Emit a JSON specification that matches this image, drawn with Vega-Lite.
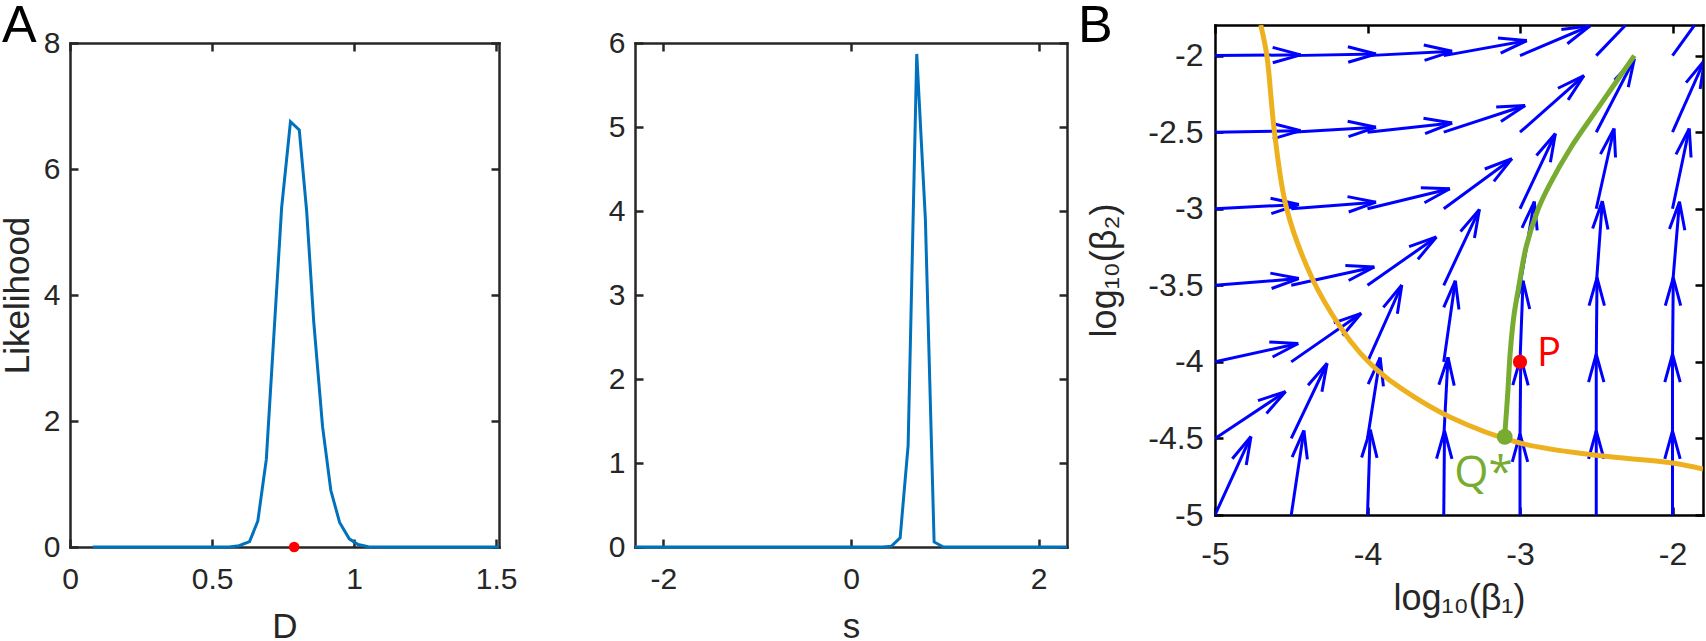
{
  "$schema": "https://vega.github.io/schema/vega-lite/v6.json",
  "padding": 0,
  "background": "white",
  "config": {
    "view": {"stroke": null},
    "font": "Liberation Sans",
    "axis": {
      "domainColor": "#262626", "domainWidth": 2.5, "domainCap": "square",
      "tickColor": "#262626", "tickWidth": 2.5, "tickSize": -8,
      "labelColor": "#262626", "labelFont": "Liberation Sans", "labelFontSize": 30, "labelPadding": 18,
      "titleColor": "#262626", "titleFont": "Liberation Sans", "titleFontSize": 35, "titleFontWeight": "normal",
      "grid": false, "labelFlush": false, "labelOverlap": false
    }
  },
  "datasets": {
    "likD": [
      {"D": 0.08, "L": 0}, {"D": 0.2, "L": 0}, {"D": 0.3, "L": 0}, {"D": 0.4, "L": 0}, {"D": 0.5, "L": 0},
      {"D": 0.56, "L": 0}, {"D": 0.595, "L": 0.02}, {"D": 0.632, "L": 0.085}, {"D": 0.661, "L": 0.41},
      {"D": 0.676, "L": 0.9}, {"D": 0.691, "L": 1.39}, {"D": 0.745, "L": 5.39}, {"D": 0.776, "L": 6.75},
      {"D": 0.807, "L": 6.62}, {"D": 0.833, "L": 5.33}, {"D": 0.858, "L": 3.57}, {"D": 0.889, "L": 1.91},
      {"D": 0.918, "L": 0.9}, {"D": 0.949, "L": 0.39}, {"D": 0.983, "L": 0.13}, {"D": 1.014, "L": 0.04},
      {"D": 1.05, "L": 0.005}, {"D": 1.1, "L": 0}, {"D": 1.2, "L": 0}, {"D": 1.3, "L": 0}, {"D": 1.4, "L": 0},
      {"D": 1.51, "L": 0}
    ],
    "dotD": [{"D": 0.789, "L": 0}],
    "likS": [
      {"s": -2.3026, "L": 0}, {"s": -1.5, "L": 0}, {"s": -0.5, "L": 0}, {"s": 0, "L": 0}, {"s": 0.339, "L": 0},
      {"s": 0.432, "L": 0.01}, {"s": 0.524, "L": 0.11}, {"s": 0.609, "L": 1.21}, {"s": 0.701, "L": 5.87},
      {"s": 0.793, "L": 3.9}, {"s": 0.886, "L": 0.06}, {"s": 0.985, "L": 0}, {"s": 1.5, "L": 0}, {"s": 2.3026, "L": 0}
    ],
    "field": [
      {"x": -5, "y": -5, "x2": -4.764, "y2": -4.487},
      {"x": -5, "y": -4.5, "x2": -4.537, "y2": -4.194},
      {"x": -5, "y": -4, "x2": -4.454, "y2": -3.88},
      {"x": -5, "y": -3.5, "x2": -4.45, "y2": -3.456},
      {"x": -5, "y": -3, "x2": -4.45, "y2": -2.972},
      {"x": -5, "y": -2.5, "x2": -4.438, "y2": -2.49},
      {"x": -5, "y": -2, "x2": -4.438, "y2": -1.995},
      {"x": -4.5, "y": -5, "x2": -4.417, "y2": -4.448},
      {"x": -4.5, "y": -4.5, "x2": -4.265, "y2": -4.009},
      {"x": -4.5, "y": -4, "x2": -4.041, "y2": -3.683},
      {"x": -4.5, "y": -3.5, "x2": -3.955, "y2": -3.38},
      {"x": -4.5, "y": -3, "x2": -3.944, "y2": -2.957},
      {"x": -4.5, "y": -2.5, "x2": -3.944, "y2": -2.468},
      {"x": -4.5, "y": -2, "x2": -3.944, "y2": -1.989},
      {"x": -4, "y": -5, "x2": -3.982, "y2": -4.443},
      {"x": -4, "y": -4.5, "x2": -3.917, "y2": -3.972},
      {"x": -4, "y": -4, "x2": -3.775, "y2": -3.498},
      {"x": -4, "y": -3.5, "x2": -3.548, "y2": -3.184},
      {"x": -4, "y": -3, "x2": -3.46, "y2": -2.869},
      {"x": -4, "y": -2.5, "x2": -3.445, "y2": -2.44},
      {"x": -4, "y": -2, "x2": -3.445, "y2": -1.972},
      {"x": -3.5, "y": -5, "x2": -3.495, "y2": -4.45},
      {"x": -3.5, "y": -4.5, "x2": -3.472, "y2": -3.97},
      {"x": -3.5, "y": -4, "x2": -3.424, "y2": -3.47},
      {"x": -3.5, "y": -3.5, "x2": -3.266, "y2": -3.004},
      {"x": -3.5, "y": -3, "x2": -3.053, "y2": -2.673},
      {"x": -3.5, "y": -2.5, "x2": -2.966, "y2": -2.326},
      {"x": -3.5, "y": -2, "x2": -2.955, "y2": -1.902},
      {"x": -3, "y": -5, "x2": -3, "y2": -4.47},
      {"x": -3, "y": -4.5, "x2": -2.995, "y2": -3.97},
      {"x": -3, "y": -4, "x2": -2.98, "y2": -3.47},
      {"x": -3, "y": -3.5, "x2": -2.906, "y2": -2.953},
      {"x": -3, "y": -3, "x2": -2.768, "y2": -2.509},
      {"x": -3, "y": -2.5, "x2": -2.58, "y2": -2.13},
      {"x": -3, "y": -2, "x2": -2.54, "y2": -1.805},
      {"x": -2.5, "y": -5, "x2": -2.5, "y2": -4.45},
      {"x": -2.5, "y": -4.5, "x2": -2.5, "y2": -3.95},
      {"x": -2.5, "y": -4, "x2": -2.495, "y2": -3.45},
      {"x": -2.5, "y": -3.5, "x2": -2.46, "y2": -2.95},
      {"x": -2.5, "y": -3, "x2": -2.383, "y2": -2.476},
      {"x": -2.5, "y": -2.5, "x2": -2.25, "y2": -2.02},
      {"x": -2.5, "y": -2, "x2": -2.307, "y2": -1.8},
      {"x": -2, "y": -5, "x2": -2, "y2": -4.45},
      {"x": -2, "y": -4.5, "x2": -2, "y2": -3.95},
      {"x": -2, "y": -4, "x2": -1.995, "y2": -3.45},
      {"x": -2, "y": -3.5, "x2": -1.954, "y2": -2.954},
      {"x": -2, "y": -3, "x2": -1.89, "y2": -2.476},
      {"x": -2, "y": -2.5, "x2": -1.79, "y2": -2.03},
      {"x": -2, "y": -2, "x2": -1.855, "y2": -1.8}
    ],
    "orange": [
      {"x": -4.70, "y": -1.80}, {"x": -4.66, "y": -2.0}, {"x": -4.61, "y": -2.5}, {"x": -4.53, "y": -3.0},
      {"x": -4.36, "y": -3.46}, {"x": -4.18, "y": -3.77}, {"x": -4.05, "y": -3.94}, {"x": -3.94, "y": -4.05},
      {"x": -3.77, "y": -4.18}, {"x": -3.46, "y": -4.36}, {"x": -3.0, "y": -4.53}, {"x": -2.5, "y": -4.61},
      {"x": -2.0, "y": -4.66}, {"x": -1.80, "y": -4.70}
    ],
    "green": [
      {"x": -3.10, "y": -4.48}, {"x": -3.08, "y": -4.2}, {"x": -3.065, "y": -3.95}, {"x": -3.04, "y": -3.7},
      {"x": -3.01, "y": -3.52}, {"x": -2.96, "y": -3.25}, {"x": -2.88, "y": -3.0}, {"x": -2.81, "y": -2.85},
      {"x": -2.66, "y": -2.59}, {"x": -2.48, "y": -2.33}, {"x": -2.25, "y": -2.0}
    ],
    "ptP": [{"x": -3.0, "y": -4.0, "label": "P"}],
    "ptQ": [{"x": -3.1, "y": -4.49, "label": "Q*"}],
    "panelA": [{"label": "A"}],
    "panelB": [{"label": "B"}]
  },
  "hconcat": [
    {
      "bounds": "flush",
      "spacing": 0,
      "vconcat": [
        {
          "width": 1, "height": 18,
          "data": {"name": "panelA"},
          "mark": {"type": "text", "font": "Liberation Sans", "fontSize": 52, "color": "#000000", "align": "left", "baseline": "alphabetic", "dx": -68, "dy": 17},
          "encoding": {
            "x": {"datum": 0, "type": "quantitative", "scale": {"domain": [0, 1]}, "axis": null},
            "y": {"datum": 1, "type": "quantitative", "scale": {"domain": [0, 1]}, "axis": null},
            "text": {"field": "label"}
          }
        },
        {
          "bounds": "full",
          "spacing": 90,
          "hconcat": [
            {
              "width": 429, "height": 504,
              "layer": [
                {
                  "data": {"name": "likD"},
                  "mark": {"type": "line", "color": "#0072BD", "strokeWidth": 3},
                  "encoding": {
                    "x": {"field": "D", "type": "quantitative", "scale": {"domain": [0, 1.51], "nice": false, "zero": false},
                          "axis": {"orient": "bottom", "values": [0, 0.5, 1, 1.5], "labelExpr": "'' + datum.value", "labelPadding": 25.5, "title": "D", "titlePadding": 15}},
                    "y": {"field": "L", "type": "quantitative", "scale": {"domain": [0, 8], "nice": false},
                          "axis": {"orient": "left", "values": [0, 2, 4, 6, 8], "labelExpr": "'' + datum.value", "title": "Likelihood", "titlePadding": 8}}
                  }
                },
                {
                  "data": {"name": "dotD"},
                  "mark": {"type": "point", "filled": true, "color": "#FF0000", "size": 113, "opacity": 1},
                  "encoding": {
                    "x": {"field": "D", "type": "quantitative", "axis": {"orient": "top", "values": [0, 0.5, 1, 1.5], "labels": false, "title": null}},
                    "y": {"field": "L", "type": "quantitative", "axis": {"orient": "right", "values": [0, 2, 4, 6, 8], "labels": false, "title": null}}
                  }
                }
              ],
              "resolve": {"axis": {"x": "independent", "y": "independent"}}
            },
            {
              "width": 432, "height": 504,
              "layer": [
                {
                  "data": {"name": "likS"},
                  "mark": {"type": "line", "color": "#0072BD", "strokeWidth": 3},
                  "encoding": {
                    "x": {"field": "s", "type": "quantitative", "scale": {"domain": [-2.3026, 2.3026], "nice": false, "zero": false},
                          "axis": {"orient": "bottom", "values": [-2, 0, 2], "labelExpr": "'' + datum.value", "labelPadding": 25.5, "title": "s", "titlePadding": 15}},
                    "y": {"field": "L", "type": "quantitative", "scale": {"domain": [0, 6], "nice": false},
                          "axis": {"orient": "left", "values": [0, 1, 2, 3, 4, 5, 6], "labelExpr": "'' + datum.value", "title": null}}
                  }
                },
                {
                  "data": {"name": "likS"},
                  "mark": {"type": "line", "strokeWidth": 0, "opacity": 0},
                  "encoding": {
                    "x": {"field": "s", "type": "quantitative", "axis": {"orient": "top", "values": [-2, 0, 2], "labels": false, "title": null}},
                    "y": {"field": "L", "type": "quantitative", "axis": {"orient": "right", "values": [0, 1, 2, 3, 4, 5, 6], "labels": false, "title": null}}
                  }
                }
              ],
              "resolve": {"axis": {"x": "independent", "y": "independent"}}
            }
          ]
        }
      ]
    },
    {
      "width": 488, "height": 490,
      "layer": [
        {
          "data": {"name": "field"},
          "mark": {"type": "rule", "color": "#0000FF", "strokeWidth": 3, "clip": true},
          "encoding": {
            "x": {"field": "x", "type": "quantitative", "scale": {"domain": [-5, -1.8], "nice": false, "zero": false},
                  "axis": {"orient": "bottom", "values": [-5, -4, -3, -2], "labelExpr": "'' + datum.value", "labelFontSize": 32, "labelPadding": 32, "title": "log₁₀(β₁)", "titleFontSize": 36, "titlePadding": 11, "domainColor": "#000000", "tickColor": "#000000"}},
            "y": {"field": "y", "type": "quantitative", "scale": {"domain": [-5, -1.8], "nice": false, "zero": false},
                  "axis": {"orient": "left", "values": [-5, -4.5, -4, -3.5, -3, -2.5, -2], "labelExpr": "'' + datum.value", "labelFontSize": 32, "labelPadding": 20, "title": "log₁₀(β₂)", "titleFontSize": 36, "titlePadding": 24, "domainColor": "#000000", "tickColor": "#000000"}},
            "x2": {"field": "x2"},
            "y2": {"field": "y2"}
          }
        },
        {
          "data": {"name": "field"},
          "transform": [
            {"filter": "datum.y2 < -1.8"},
            {"calculate": "-atan2(datum.y2 - datum.y, datum.x2 - datum.x) * 180 / PI", "as": "ang"}
          ],
          "mark": {"type": "point", "shape": "M0,0L-2,-0.55M0,0L-2,0.55", "filled": false, "stroke": "#0000FF", "strokeWidth": 3, "size": 784, "opacity": 1, "clip": true},
          "encoding": {
            "x": {"field": "x2", "type": "quantitative", "axis": {"orient": "top", "values": [-5, -4, -3, -2], "labels": false, "title": null, "domainColor": "#000000", "tickColor": "#000000"}},
            "y": {"field": "y2", "type": "quantitative", "axis": {"orient": "right", "values": [-5, -4.5, -4, -3.5, -3, -2.5, -2], "labels": false, "title": null, "domainColor": "#000000", "tickColor": "#000000"}},
            "angle": {"field": "ang", "type": "quantitative", "scale": null}
          }
        },
        {
          "data": {"name": "orange"},
          "mark": {"type": "line", "color": "#EDB120", "strokeWidth": 5, "interpolate": "catmull-rom", "clip": true},
          "encoding": {
            "x": {"field": "x", "type": "quantitative", "axis": null},
            "y": {"field": "y", "type": "quantitative", "axis": null}
          }
        },
        {
          "data": {"name": "green"},
          "mark": {"type": "line", "color": "#77AC30", "strokeWidth": 5, "interpolate": "catmull-rom", "clip": true},
          "encoding": {
            "x": {"field": "x", "type": "quantitative", "axis": null},
            "y": {"field": "y", "type": "quantitative", "axis": null}
          }
        },
        {
          "data": {"name": "ptP"},
          "mark": {"type": "point", "filled": true, "color": "#FF0000", "size": 200, "opacity": 1},
          "encoding": {
            "x": {"field": "x", "type": "quantitative", "axis": null},
            "y": {"field": "y", "type": "quantitative", "axis": null}
          }
        },
        {
          "data": {"name": "ptP"},
          "mark": {"type": "text", "color": "#FF0000", "font": "Open Sans", "fontSize": 40, "align": "left", "baseline": "alphabetic", "dx": 17, "dy": 4},
          "encoding": {
            "x": {"field": "x", "type": "quantitative", "axis": null},
            "y": {"field": "y", "type": "quantitative", "axis": null},
            "text": {"field": "label"}
          }
        },
        {
          "data": {"name": "ptQ"},
          "mark": {"type": "point", "filled": true, "color": "#77AC30", "size": 250, "opacity": 1},
          "encoding": {
            "x": {"field": "x", "type": "quantitative", "axis": null},
            "y": {"field": "y", "type": "quantitative", "axis": null}
          }
        },
        {
          "data": {"name": "ptQ"},
          "mark": {"type": "text", "color": "#77AC30", "font": "Open Sans", "fontSize": 44, "align": "right", "baseline": "alphabetic", "dx": 8, "dy": 50},
          "encoding": {
            "x": {"field": "x", "type": "quantitative", "axis": null},
            "y": {"field": "y", "type": "quantitative", "axis": null},
            "text": {"field": "label"}
          }
        },
        {
          "data": {"name": "panelB"},
          "mark": {"type": "text", "font": "Liberation Sans", "fontSize": 52, "color": "#000000", "align": "left", "baseline": "alphabetic", "dx": -137, "dy": 17},
          "encoding": {
            "x": {"datum": -5, "type": "quantitative", "axis": null},
            "y": {"datum": -1.8, "type": "quantitative", "axis": null},
            "text": {"field": "label"}
          }
        }
      ],
      "resolve": {"axis": {"x": "independent", "y": "independent"}}
    }
  ],
  "spacing": 5
}
